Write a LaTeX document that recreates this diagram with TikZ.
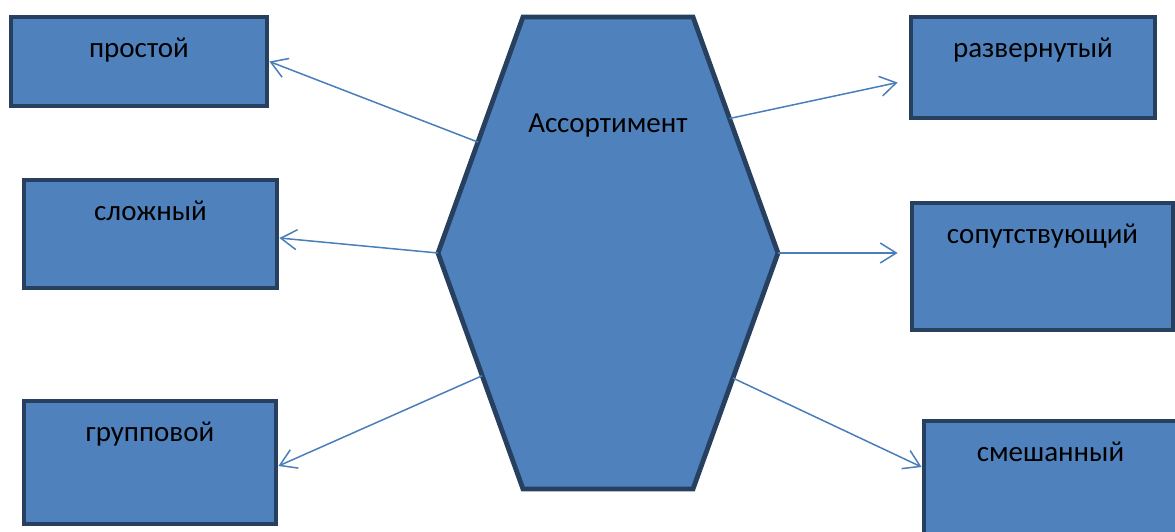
\documentclass[tikz,border=0pt]{standalone}
\usepackage{fontspec}
\setmainfont{Carlito}
\usetikzlibrary{arrows.meta, calc}
\definecolor{cFill}{HTML}{4F81BD}
\definecolor{cBorder}{HTML}{27405F}
\definecolor{cFlow}{HTML}{4A7EBB}
\tikzset{
  box/.style={draw=cBorder, fill=cFill, line width=4.8pt, inner sep=0pt},
  boxtext/.style={anchor=base, yshift=-43pt, font=\fontsize{29}{33}\selectfont},
  hexa/.style={draw=cBorder, fill=cFill, line width=4.8pt, line join=miter},
  flow/.style={-{Straight Barb[length=16pt, width=20pt]}, line width=1.5pt, draw=cFlow},
}

\begin{document}
\begin{tikzpicture}[x=1pt, y=-1pt]

  \useasboundingbox (0,0) rectangle (1175,531);

  % ----------------------------------------------------------------
  % Hexagon
  % ----------------------------------------------------------------
  \coordinate (asTL) at (523,17);
  \coordinate (asTR) at (693,17);
  \coordinate (asR)  at (778,253);
  \coordinate (asBR) at (693,489);
  \coordinate (asBL) at (523,489);
  \coordinate (asL)  at (438,253);
  \draw[hexa] (asTL) -- (asTR) -- (asR) -- (asBR) -- (asBL) -- (asL) -- cycle;
  \node[anchor=base, font=\fontsize{29}{33}\selectfont] (assort) at (608,132) {Ассортимент};

  % ----------------------------------------------------------------
  % Left boxes
  % ----------------------------------------------------------------
  \node[box, minimum width=256, minimum height=89, label={[boxtext]north:простой}]
    (prost) at (139,61.5) {};
  \node[box, minimum width=253, minimum height=108, label={[boxtext]north:сложный}]
    (slozh) at (150.5,234) {};
  \node[box, minimum width=252, minimum height=123, label={[boxtext]north:групповой}]
    (grupp) at (150,462.5) {};

  % ----------------------------------------------------------------
  % Right boxes
  % ----------------------------------------------------------------
  \node[box, minimum width=244, minimum height=101, label={[boxtext]north:развернутый}]
    (razv) at (1033,67.5) {};
  \node[box, minimum width=261, minimum height=127, label={[boxtext]north:сопутствующий}]
    (soput) at (1042.5,266.5) {};
  \node[box, minimum width=253, minimum height=119, label={[boxtext]north:смешанный}]
    (smesh) at (1050.5,480.5) {};

  % ----------------------------------------------------------------
  % Arrows
  % ----------------------------------------------------------------
  \draw[flow] ($(asTL)!0.53!(asL)$)  -- (prost.east);
  \draw[flow] (asL)                  -- ([yshift=-4pt]slozh.east);
  \draw[flow] ($(asL)!0.52!(asBL)$)  -- ([yshift=-3.5pt]grupp.east);
  \draw[flow] ($(asTR)!0.43!(asR)$)  -- ([xshift=-11pt, yshift=-15pt]razv.west);
  \draw[flow] (asR)                  -- ([xshift=-12pt, yshift=13.5pt]soput.west);
  \draw[flow] ($(asR)!0.53!(asBR)$)  -- ([yshift=13.5pt]smesh.west);

\end{tikzpicture}
\end{document}
